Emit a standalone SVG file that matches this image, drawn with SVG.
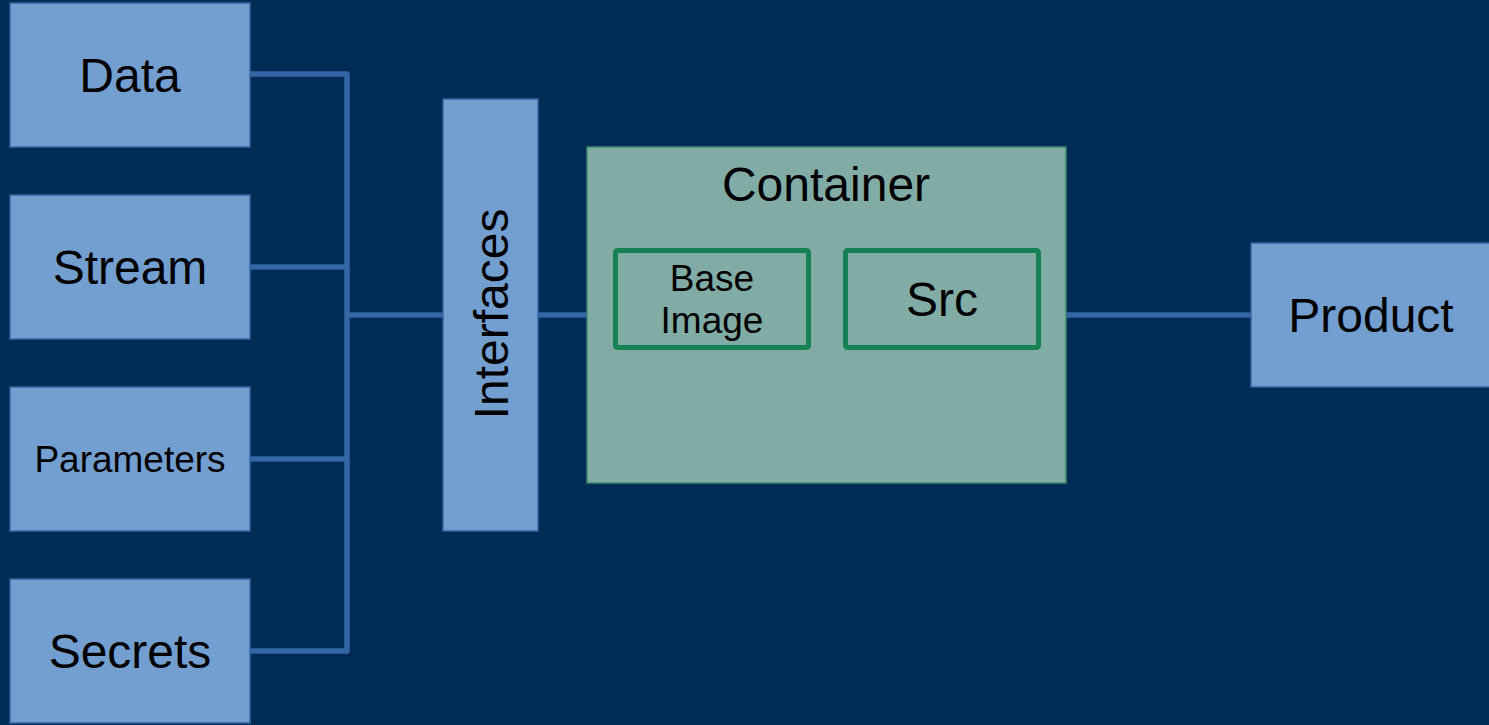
<svg xmlns="http://www.w3.org/2000/svg" width="1489" height="725" viewBox="0 0 1489 725">
  <style>
    .box { fill: #729fcf; stroke: #3465a4; stroke-width: 1.5; }
    .container { fill: #81aca6; stroke: #3a8a6a; stroke-width: 1.5; }
    .inner { fill: none; stroke: #168253; stroke-width: 5; }
    .wire { fill: none; stroke: #3465a4; stroke-width: 5.5; stroke-linejoin: round; }
    text { font-family: "Liberation Sans", Arial, sans-serif; fill: #000; text-anchor: middle; }
    .big { font-size: 48px; }
    .small { font-size: 37px; }
  </style>
  <rect x="0" y="0" width="1489" height="725" fill="#002b55"/>

  <g id="connectors">
    <path class="wire" d="M250 74 H347 V651 H250"/>
    <path class="wire" d="M250 267 H347"/>
    <path class="wire" d="M250 459 H347"/>
    <path class="wire" d="M347 315 H443"/>
    <path class="wire" d="M538 315 H587"/>
    <path class="wire" d="M1066 315 H1251"/>
  </g>

  <g id="data">
    <rect class="box" x="10" y="3" width="240" height="144"/>
    <text class="big" x="130" y="92">Data</text>
  </g>
  <g id="stream">
    <rect class="box" x="10" y="195" width="240" height="144"/>
    <text class="big" x="130" y="284">Stream</text>
  </g>
  <g id="parameters">
    <rect class="box" x="10" y="387" width="240" height="144"/>
    <text class="small" x="130" y="472">Parameters</text>
  </g>
  <g id="secrets">
    <rect class="box" x="10" y="579" width="240" height="144"/>
    <text class="big" x="130" y="668">Secrets</text>
  </g>

  <g id="interfaces">
    <rect class="box" x="443" y="99" width="95" height="432"/>
    <text class="big" transform="translate(508 314) rotate(-90)">Interfaces</text>
  </g>

  <g id="container">
    <rect class="container" x="587" y="147" width="479" height="336"/>
    <text class="big" x="826" y="201">Container</text>
  </g>
  <g id="base-image">
    <rect class="inner" x="615.5" y="250.5" width="193" height="97" rx="2"/>
    <text class="small" x="712" y="291">Base</text>
    <text class="small" x="712" y="333">Image</text>
  </g>
  <g id="src">
    <rect class="inner" x="845.5" y="250.5" width="193" height="97" rx="2"/>
    <text class="big" x="942" y="316">Src</text>
  </g>

  <g id="product">
    <rect class="box" x="1251" y="243" width="245" height="144"/>
    <text class="big" x="1371" y="332">Product</text>
  </g>
</svg>
